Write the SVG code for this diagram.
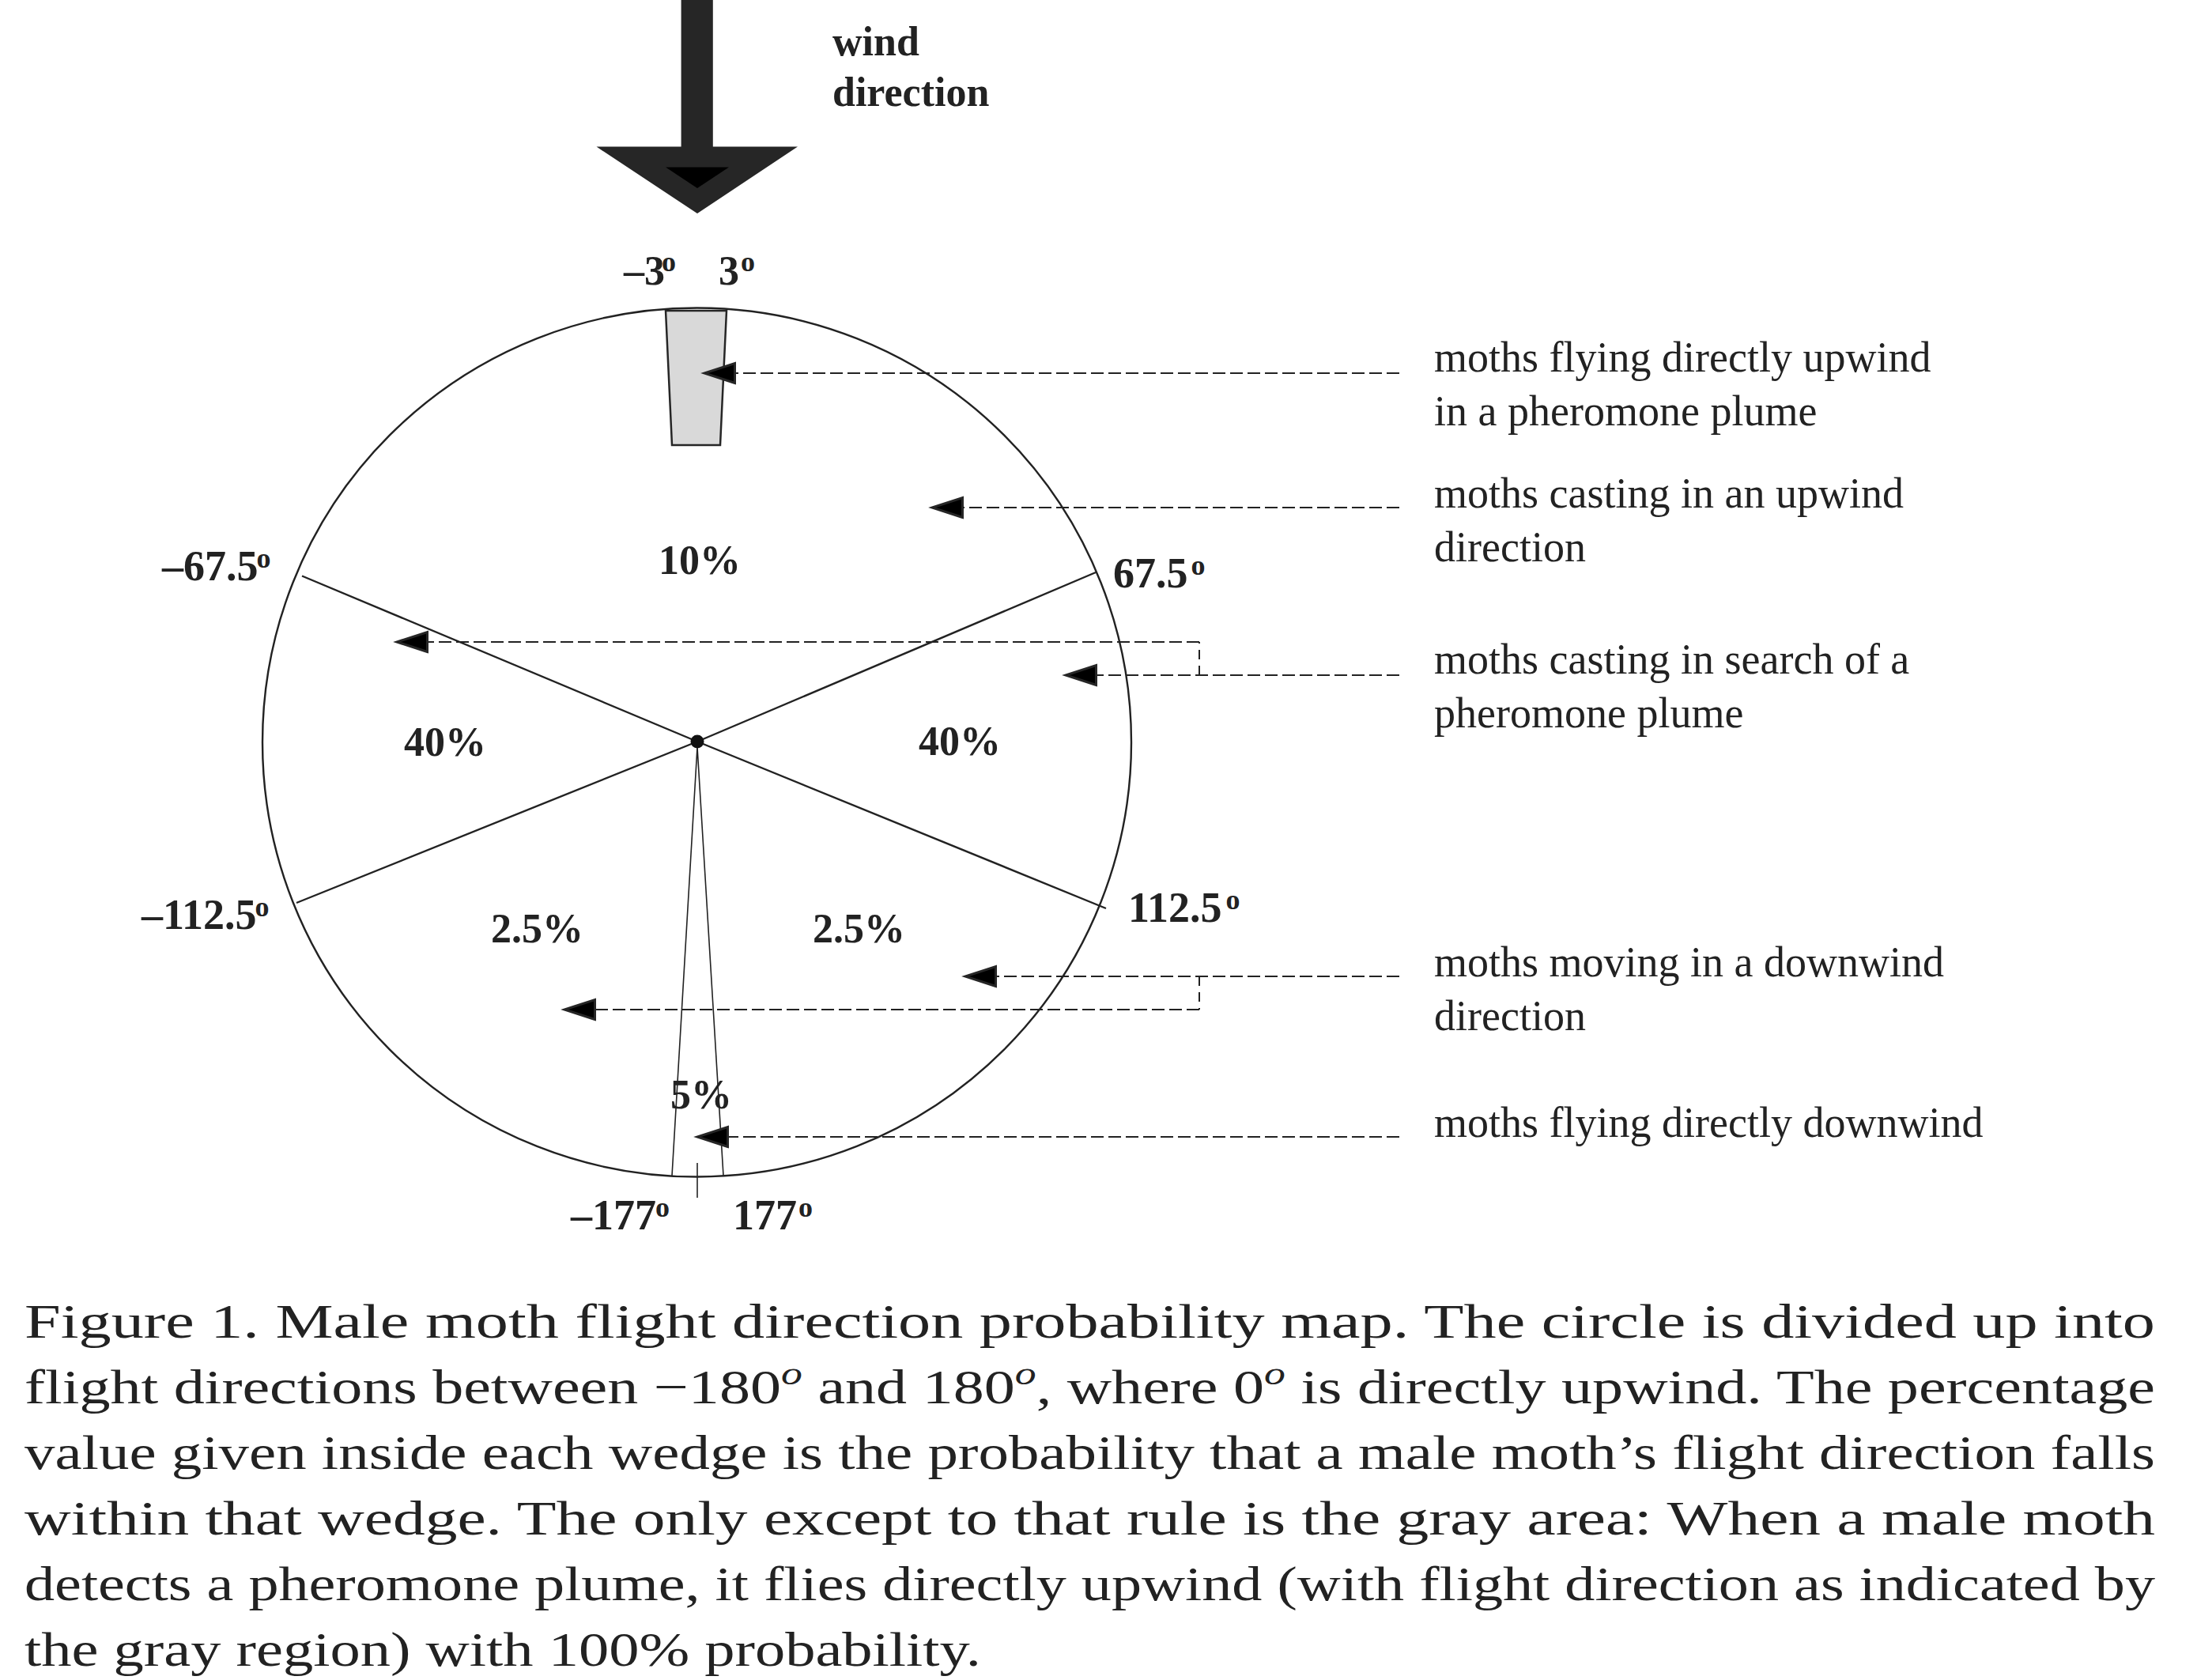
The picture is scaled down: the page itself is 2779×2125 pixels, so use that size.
<svg xmlns="http://www.w3.org/2000/svg" width="2779" height="2125" viewBox="0 0 2779 2125">
<style>
.bl{font-family:"Liberation Serif","Times New Roman",serif;font-weight:bold;font-size:52px;fill:#222}
.deg{font-family:"Liberation Serif","Times New Roman",serif;font-weight:bold;font-size:54px;fill:#222}
.lab{font-family:"Liberation Serif","Times New Roman",serif;font-size:54px;fill:#222}
.cap{font-family:"Liberation Serif","Times New Roman",serif;font-size:61px;fill:#222}
.dash{fill:none;stroke:#222;stroke-width:2.2;stroke-dasharray:16 6;marker-end:url(#ah)}
.brk{fill:none;stroke:#222;stroke-width:2;stroke-dasharray:12 8}
.rad{stroke:#222;stroke-width:2.4;fill:none}
.thin{stroke:#222;stroke-width:1.6;fill:none}
</style>
<defs>
<marker id="ah" markerUnits="userSpaceOnUse" markerWidth="50" markerHeight="36" refX="40" refY="15" orient="auto" overflow="visible">
<path d="M1.5,2.5 L40,15 L1.5,27.5 Z" fill="#000" stroke="#262626" stroke-width="3" stroke-linejoin="miter"/>
</marker>
</defs>
<rect width="2779" height="2125" fill="#fff"/>

<g id="wind-arrow">
<polygon points="861.6,0 901.8,0 901.8,185.6 1009,185.6 882,270 754.5,185.6 861.6,185.6" fill="#262626"/>
<polygon points="842,211.6 922,211.6 882,238" fill="#000"/>
<text class="bl" x="1053" y="70">wind</text>
<text class="bl" x="1053" y="134">direction</text>
</g>

<g id="circle">
<circle cx="881.5" cy="939" r="549.5" fill="none" stroke="#222" stroke-width="2.4"/>
</g>

<g id="plume-wedge">
<polygon points="842,393 919,393 911,563 850,563" fill="#d9d9d9" stroke="#262626" stroke-width="2.5"/>
</g>

<g id="sectors">
<polyline class="rad" points="382,728.5 882,938 1399,1149"/>
<polyline class="rad" points="1386,724 882,938 375,1142"/>
<polyline class="thin" points="850,1487 882,945 915,1487"/>
<line class="thin" x1="882" y1="1471" x2="882" y2="1515" stroke-width="1.2"/>
<circle cx="882" cy="938" r="8.5" fill="#111"/>
</g>

<g id="angle-labels">
<text class="bl" x="789" y="360">–3<tspan font-size="36" dx="-4" dy="-17">o</tspan></text>
<text class="bl" x="909" y="360">3<tspan font-size="36" dx="2" dy="-17">o</tspan></text>
<text class="deg" x="205" y="734">–67.5<tspan font-size="36" dx="-2" dy="-16">o</tspan></text>
<text class="deg" x="1408" y="743">67.5<tspan font-size="36" dx="4" dy="-16">o</tspan></text>
<text class="deg" x="179" y="1175">–112.5<tspan font-size="36" dx="-2" dy="-16">o</tspan></text>
<text class="deg" x="1427" y="1166">112.5<tspan font-size="36" dx="5" dy="-16">o</tspan></text>
<text class="deg" x="722" y="1555">–177<tspan font-size="36" dx="-1" dy="-16">o</tspan></text>
<text class="deg" x="927" y="1555">177<tspan font-size="36" dx="2" dy="-16">o</tspan></text>
</g>

<g id="percent-labels">
<text class="bl" x="833" y="726">10%</text>
<text class="bl" x="511" y="956">40%</text>
<text class="bl" x="1162" y="955">40%</text>
<text class="bl" x="621" y="1192">2.5%</text>
<text class="bl" x="1028" y="1192">2.5%</text>
<text class="bl" x="848" y="1402">5%</text>
</g>

<g id="connectors">
<path class="dash" d="M1770,472 H891"/>
<path class="dash" d="M1770,642 H1179"/>
<path class="brk" d="M1517,854 V812"/>
<path class="dash" d="M1517,812 H502"/>
<path class="dash" d="M1770,854 H1348"/>
<path class="dash" d="M1770,1235 H1221"/>
<path class="brk" d="M1517,1235 V1277"/>
<path class="dash" d="M1517,1277 H714"/>
<path class="dash" d="M1770,1438 H882"/>
</g>

<g id="label-plume-upwind">
<text class="lab" x="1814" y="470">moths flying directly upwind</text>
<text class="lab" x="1814" y="538">in a pheromone plume</text>
</g>
<g id="label-casting-upwind">
<text class="lab" x="1814" y="642">moths casting in an upwind</text>
<text class="lab" x="1814" y="710">direction</text>
</g>
<g id="label-casting-search">
<text class="lab" x="1814" y="852">moths casting in search of a</text>
<text class="lab" x="1814" y="920">pheromone plume</text>
</g>
<g id="label-downwind">
<text class="lab" x="1814" y="1235">moths moving in a downwind</text>
<text class="lab" x="1814" y="1303">direction</text>
</g>
<g id="label-direct-downwind">
<text class="lab" x="1814" y="1438">moths flying directly downwind</text>
</g>

<g id="caption">
<text class="cap" x="31" y="1692" textLength="2695" lengthAdjust="spacingAndGlyphs">Figure 1. Male moth flight direction probability map. The circle is divided up into</text>
<text class="cap" x="31" y="1775" textLength="2695" lengthAdjust="spacingAndGlyphs">flight directions between −180<tspan font-size="42" font-style="italic" dy="-24">o</tspan><tspan dy="24"> and 180</tspan><tspan font-size="42" font-style="italic" dy="-24">o</tspan><tspan dy="24">, where 0</tspan><tspan font-size="42" font-style="italic" dy="-24">o</tspan><tspan dy="24"> is directly upwind. The percentage</tspan></text>
<text class="cap" x="31" y="1858" textLength="2695" lengthAdjust="spacingAndGlyphs">value given inside each wedge is the probability that a male moth’s flight direction falls</text>
<text class="cap" x="31" y="1941" textLength="2695" lengthAdjust="spacingAndGlyphs">within that wedge. The only except to that rule is the gray area: When a male moth</text>
<text class="cap" x="31" y="2024" textLength="2695" lengthAdjust="spacingAndGlyphs">detects a pheromone plume, it flies directly upwind (with flight direction as indicated by</text>
<text class="cap" x="31" y="2107" textLength="1210" lengthAdjust="spacingAndGlyphs">the gray region) with 100% probability.</text>
</g>
</svg>
